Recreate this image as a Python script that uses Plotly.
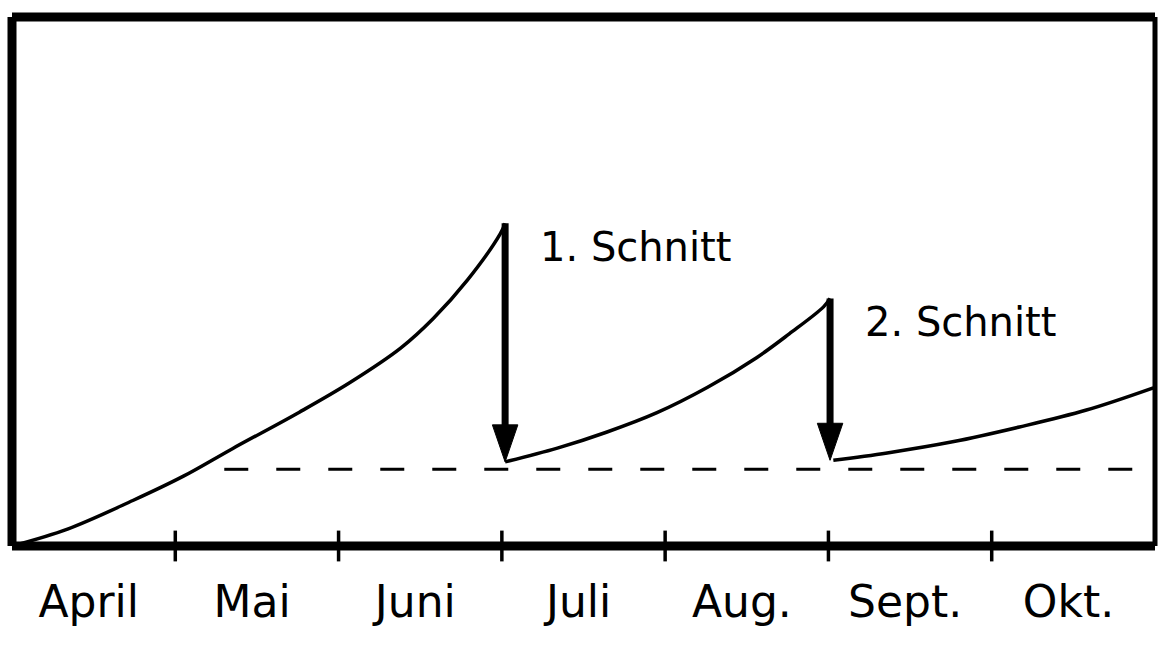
import plotly.graph_objects as go

# x in months since 1 April, y in relative growth units (0..100)
months = ["April", "Mai", "Juni", "Juli", "Aug.", "Sept.", "Okt."]
month_starts = [0, 1, 2, 3, 4, 5, 6]
tick_marks = [1, 2, 3, 4, 5, 6]

growth1_x = [0.0, 0.34, 0.74, 1.05, 1.35, 1.76, 2.07, 2.38, 2.58, 2.79, 2.99, 3.02]
growth1_y = [0.0, 3.2, 8.6, 13.2, 18.4, 25.3, 30.9, 37.4, 43.0, 50.3, 59.0, 61.0]

growth2_x = [3.02, 3.34, 3.64, 3.95, 4.26, 4.56, 4.76, 4.97, 5.01]
growth2_y = [15.9, 18.5, 21.5, 25.2, 30.0, 35.6, 40.1, 45.2, 46.8]

growth3_x = [5.03, 5.36, 5.76, 6.17, 6.58, 6.99]
growth3_y = [16.2, 17.6, 19.7, 22.5, 25.7, 29.9]

residual_level = 14.5
residual_x = [1.30, 6.94]

cut_labels = ["1. Schnitt", "2. Schnitt"]

segments = [(growth1_x, growth1_y), (growth2_x, growth2_y), (growth3_x, growth3_y)]

FONT = "DejaVu Sans"
fig = go.Figure()

# residual (dashed) level
fig.add_trace(go.Scatter(
    x=residual_x, y=[residual_level] * len(residual_x), mode="lines",
    line=dict(color="black", width=3, dash="24px,28px"),
    hoverinfo="skip", showlegend=False))

# growth curves
for sx, sy in segments:
    fig.add_trace(go.Scatter(
        x=sx, y=sy, mode="lines", line=dict(color="black", width=3.5, shape="spline", smoothing=1.0),
        hoverinfo="skip", showlegend=False, cliponaxis=False))

# cut arrows: from the peak of one segment down to the start of the next
HEAD_HW = 0.078   # half width of arrow head (months)
HEAD_LEN = 7.0    # arrow head length (y units)
for i in range(2):
    cx = segments[i][0][-1]
    top = segments[i][1][-1]
    base = segments[i + 1][1][0]
    fig.add_trace(go.Scatter(
        x=[cx, cx], y=[top, base + HEAD_LEN * 0.6], mode="lines",
        line=dict(color="black", width=7), hoverinfo="skip", showlegend=False))
    fig.add_trace(go.Scatter(
        x=[cx - HEAD_HW, cx + HEAD_HW, cx, cx - HEAD_HW],
        y=[base + HEAD_LEN, base + HEAD_LEN, base, base + HEAD_LEN],
        mode="lines", fill="toself", fillcolor="black",
        line=dict(color="black", width=1), hoverinfo="skip", showlegend=False))
    fig.add_annotation(
        x=cx + 0.2, y=top - 4.5, text=cut_labels[i], showarrow=False,
        xanchor="left", yanchor="middle", font=dict(family=FONT, size=40, color="black"))

# month tick marks crossing the axis
fig.add_trace(go.Scatter(
    x=tick_marks, y=[0] * len(tick_marks), mode="markers",
    marker=dict(symbol="line-ns", size=22, line=dict(color="black", width=3.5)),
    cliponaxis=False, hoverinfo="skip", showlegend=False))

# frame
for (x0, y0, x1, y1, w) in [(0, 0, 0, 1, 9), (0, 1, 1, 1, 9), (0, 0, 1, 0, 9), (1, 0, 1, 1, 5)]:
    fig.add_shape(type="line", xref="paper", yref="paper", x0=x0, y0=y0, x1=x1, y1=y1,
                  line=dict(color="black", width=w), layer="above")

fig.update_xaxes(
    range=[0, 7], showgrid=False, zeroline=False, showline=False, ticks="",
    tickvals=[m + 0.47 for m in month_starts], ticktext=months,
    tickfont=dict(family=FONT, size=44, color="black"), ticklabelstandoff=26)
fig.update_yaxes(range=[0, 100], showgrid=False, zeroline=False, showline=False,
                 showticklabels=False, ticks="")

fig.update_layout(
    width=1160, height=645, margin=dict(l=12, r=5, t=17, b=99),
    paper_bgcolor="white", plot_bgcolor="white", showlegend=False)

# remove the default page margin so the figure fills the window exactly
fig.write_html(
    "out.html",
    config={"displayModeBar": False, "staticPlot": True},
    post_script="document.body.style.margin='0';document.body.style.overflow='hidden';")
